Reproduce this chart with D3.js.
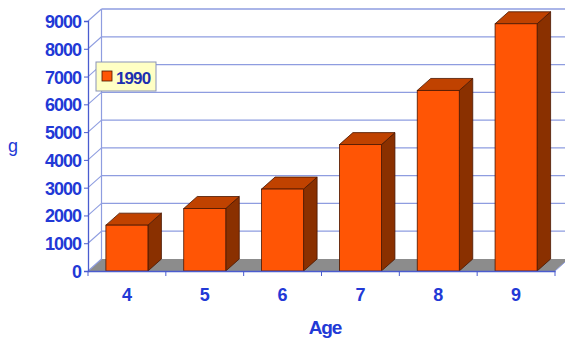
<!DOCTYPE html>
<html>
<head>
<meta charset="utf-8">
<script src="https://cdn.jsdelivr.net/npm/d3@7/dist/d3.min.js"></script>
<style>
  html, body { margin: 0; padding: 0; background: #ffffff; }
  svg { display: block; }
  text { font-family: Arial, "Liberation Sans", sans-serif; }
</style>
</head>
<body>
<svg id="chart" width="565" height="338"></svg>
<script>
// Mean weight (g) by age, 1990
const ages = ["4", "5", "6", "7", "8", "9"];
const weights1990 = [1650, 2250, 2950, 4550, 6500, 8900];
const yTicks = [0, 1000, 2000, 3000, 4000, 5000, 6000, 7000, 8000, 9000];
const seriesName = "1990";

const svg = d3.select("#chart");
const W = 565, H = 338;

// plot frame and 3-D depth offset
const plotLeft = 88, plotRight = 555, plotBottom = 271, plotTop = 21;
const dx = 13.5, dy = 12;

const x = d3.scaleBand().domain(ages).range([plotLeft, plotRight]).paddingInner(0.46).paddingOuter(0.23);
const y = d3.scaleLinear().domain([0, 9000]).range([plotBottom, plotTop]);

const gridColor = "#8e9de0";
const axisColor = "#4a5ccf";
const textColor = "#2239d6";

// floor
svg.append("polygon")
  .attr("points", [[plotLeft, plotBottom], [plotRight, plotBottom], [plotRight + dx, plotBottom - dy], [plotLeft + dx, plotBottom - dy]].join(" "))
  .attr("fill", "#8c8c8c");

// back wall gridlines and left-wall diagonals
const grid = svg.append("g");
grid.selectAll("line.back").data(yTicks.filter(d => d > 0)).join("line")
  .attr("class", "back")
  .attr("x1", plotLeft + dx).attr("x2", W + 5)
  .attr("y1", d => y(d) - dy).attr("y2", d => y(d) - dy)
  .attr("stroke", gridColor).attr("stroke-width", 1.3);
grid.selectAll("line.side").data(yTicks).join("line")
  .attr("class", "side")
  .attr("x1", plotLeft).attr("y1", d => y(d))
  .attr("x2", plotLeft + dx).attr("y2", d => y(d) - dy)
  .attr("stroke", gridColor).attr("stroke-width", 1.1);
grid.append("line")
  .attr("x1", plotLeft + dx).attr("x2", plotLeft + dx)
  .attr("y1", y(9000) - dy).attr("y2", plotBottom - dy)
  .attr("stroke", gridColor).attr("stroke-width", 1.2);
// right edge of floor
grid.append("line")
  .attr("x1", plotRight).attr("y1", plotBottom).attr("x2", plotRight + dx).attr("y2", plotBottom - dy)
  .attr("stroke", gridColor).attr("stroke-width", 1);

// 3-D bars
const bw = x.bandwidth();
const bars = svg.append("g").selectAll("g").data(ages.map((a, i) => ({ age: a, v: weights1990[i] }))).join("g");
const edge = "#4a1600";
bars.append("polygon") // side
  .attr("points", d => {
    const x0 = x(d.age) + bw, yv = y(d.v), y0 = y(0);
    return [[x0, yv], [x0 + dx, yv - dy], [x0 + dx, y0 - dy], [x0, y0]].join(" ");
  })
  .attr("fill", "#8a3000").attr("stroke", edge).attr("stroke-width", 0.8);
bars.append("polygon") // top
  .attr("points", d => {
    const x0 = x(d.age), yv = y(d.v);
    return [[x0, yv], [x0 + dx, yv - dy], [x0 + bw + dx, yv - dy], [x0 + bw, yv]].join(" ");
  })
  .attr("fill", "#c04200").attr("stroke", edge).attr("stroke-width", 0.8);
bars.append("rect") // front
  .attr("x", d => x(d.age)).attr("y", d => y(d.v))
  .attr("width", bw).attr("height", d => y(0) - y(d.v))
  .attr("fill", "#ff5505").attr("stroke", edge).attr("stroke-width", 0.8);

// y axis
const yAxis = svg.append("g").attr("transform", `translate(${plotLeft},0)`)
  .call(d3.axisLeft(y).tickValues(yTicks).tickSize(4).tickPadding(3).tickFormat(d3.format("d")));
yAxis.select(".domain").attr("stroke", axisColor).attr("stroke-width", 1.3);
yAxis.selectAll(".tick line").attr("stroke", axisColor);
yAxis.selectAll(".tick text")
  .attr("fill", textColor).attr("font-size", 18).attr("font-weight", "bold")
  .attr("letter-spacing", "-1").attr("dy", "0.36em");

// x axis
const xAxis = svg.append("g").attr("transform", `translate(0,${plotBottom})`)
  .call(d3.axisBottom(x).tickSize(0).tickPadding(17));
xAxis.select(".domain").attr("stroke", axisColor).attr("stroke-width", 1.3);
xAxis.selectAll(".tick text")
  .attr("fill", textColor).attr("font-size", 18).attr("font-weight", "bold");
// category separators
const step = x.step();
svg.append("g").selectAll("line").data(d3.range(ages.length + 1)).join("line")
  .attr("x1", i => plotLeft + i * step).attr("x2", i => plotLeft + i * step)
  .attr("y1", plotBottom).attr("y2", plotBottom + 5)
  .attr("stroke", axisColor).attr("stroke-width", 1);

// axis titles
svg.append("text").attr("x", 325).attr("y", 334).attr("text-anchor", "middle")
  .attr("fill", textColor).attr("font-size", 19).attr("font-weight", "bold")
  .attr("letter-spacing", "-1.2").text("Age");
svg.append("text").attr("x", 13).attr("y", 152).attr("text-anchor", "middle")
  .attr("fill", textColor).attr("font-size", 18).text("g");

// legend
const lg = svg.append("g").attr("transform", "translate(96,62)");
lg.append("rect").attr("width", 60).attr("height", 29)
  .attr("fill", "#ffffc4").attr("stroke", "#8a93b8").attr("stroke-width", 1);
lg.append("rect").attr("x", 6).attr("y", 9).attr("width", 10).attr("height", 10)
  .attr("fill", "#ff5505").attr("stroke", edge).attr("stroke-width", 0.8);
lg.append("text").attr("x", 20).attr("y", 22)
  .attr("fill", "#1d2fb0").attr("font-size", 17).attr("font-weight", "bold")
  .attr("letter-spacing", "-0.9").text(seriesName);
</script>
</body>
</html>
